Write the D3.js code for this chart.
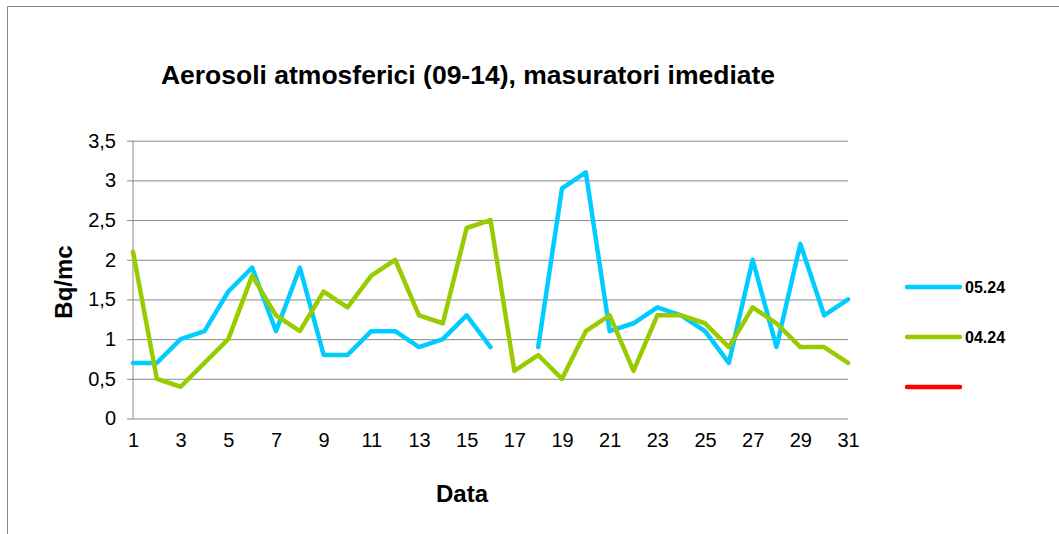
<!DOCTYPE html>
<html>
<head>
<meta charset="utf-8">
<script src="https://cdn.jsdelivr.net/npm/d3@7"></script>
<style>
  body { margin: 0; background: #fff; }
  text { font-family: "Liberation Sans", Arial, sans-serif; fill: #000; }
</style>
</head>
<body>
<svg id="chart" width="1059" height="534"></svg>
<script>
// data
var days = d3.range(1, 32);
var may24 = [0.7, 0.7, 1.0, 1.1, 1.6, 1.9, 1.1, 1.9, 0.8, 0.8, 1.1, 1.1, 0.9, 1.0, 1.3, 0.9,
             null, 0.9, 2.9, 3.1, 1.1, 1.2, 1.4, 1.3, 1.1, 0.7, 2.0, 0.9, 2.2, 1.3, 1.5];
var apr24 = [2.1, 0.5, 0.4, 0.7, 1.0, 1.8, 1.3, 1.1, 1.6, 1.4, 1.8, 2.0, 1.3, 1.2, 2.4, 2.5,
             0.6, 0.8, 0.5, 1.1, 1.3, 0.6, 1.3, 1.3, 1.2, 0.9, 1.4, 1.2, 0.9, 0.9, 0.7];
var yTicks = [0, 0.5, 1, 1.5, 2, 2.5, 3, 3.5];
var seriesNames = ["05.24", "04.24", ""];
var seriesColors = ["#00ccff", "#99cc00", "#ff0000"];
var seriesValues = [may24, apr24, []];

var svg = d3.select("#chart");
var plotLeft = 133, plotRight = 848, plotTop = 140.7, plotBottom = 418.5;

var x = d3.scalePoint().domain(days).range([plotLeft, plotRight]);
var y = d3.scaleLinear().domain([0, 3.5]).range([plotBottom, plotTop]);

// outer frame (cut off on right and bottom)
svg.append("path")
    .attr("d", "M7.5,534 V6.5 H1059")
    .attr("fill", "none")
    .attr("stroke", "#888")
    .attr("stroke-width", 1);

// title
svg.append("text")
    .attr("x", 468).attr("y", 84)
    .attr("text-anchor", "middle")
    .style("font-size", "26.5px").style("font-weight", "bold")
    .text("Aerosoli atmosferici (09-14), masuratori imediate");

// y grid + labels
var gridW = plotRight - 127;
svg.append("g")
    .attr("transform", "translate(" + plotRight + ",0)")
    .call(d3.axisLeft(y).tickValues(yTicks).tickSize(gridW).tickPadding(11)
        .tickFormat(function (d) { return String(d).replace(".", ","); }))
    .call(function (g) {
        g.select(".domain").remove();
        g.selectAll("line").attr("stroke", "#888").attr("stroke-width", 1);
        g.selectAll("text").style("font-size", "20px").attr("fill", "#000")
            .style("font-family", "'Liberation Sans', Arial, sans-serif");
    });

// y axis line
svg.append("line")
    .attr("x1", x(days[0])).attr("x2", x(days[0]))
    .attr("y1", y(3.5)).attr("y2", y(0))
    .attr("stroke", "#888").attr("stroke-width", 1);

// x axis labels
svg.append("g")
    .attr("transform", "translate(0," + plotBottom + ")")
    .call(d3.axisBottom(x).tickValues(days.filter(function (d) { return d % 2 === 1; }))
        .tickSize(0).tickPadding(14))
    .call(function (g) {
        g.select(".domain").remove();
        g.selectAll("text").style("font-size", "20px").attr("fill", "#000")
            .style("font-family", "'Liberation Sans', Arial, sans-serif");
    });

// axis titles
svg.append("text")
    .attr("transform", "translate(72,282) rotate(-90)")
    .attr("text-anchor", "middle")
    .style("font-size", "24px").style("font-weight", "bold")
    .text("Bq/mc");

svg.append("text")
    .attr("x", 462).attr("y", 502)
    .attr("text-anchor", "middle")
    .style("font-size", "24px").style("font-weight", "bold")
    .text("Data");

// lines
var line = d3.line()
    .defined(function (d) { return d != null; })
    .x(function (d, i) { return x(days[i]); })
    .y(function (d) { return y(d); });

seriesValues.forEach(function (vals, k) {
    if (!vals.length) return;
    svg.append("path")
        .datum(vals)
        .attr("d", line)
        .attr("fill", "none")
        .attr("stroke", seriesColors[k])
        .attr("stroke-width", 4.5)
        .attr("stroke-linejoin", "round")
        .attr("stroke-linecap", "round");
});

// legend
var legend = svg.append("g");
seriesNames.forEach(function (name, k) {
    var ly = 287 + k * 50;
    legend.append("line")
        .attr("x1", 907).attr("x2", 960)
        .attr("y1", ly).attr("y2", ly)
        .attr("stroke", seriesColors[k])
        .attr("stroke-width", 4.5)
        .attr("stroke-linecap", "round");
    legend.append("text")
        .attr("x", 965).attr("y", ly)
        .attr("dy", "0.35em")
        .style("font-size", "16px").style("font-weight", "bold")
        .text(name);
});
</script>
</body>
</html>
